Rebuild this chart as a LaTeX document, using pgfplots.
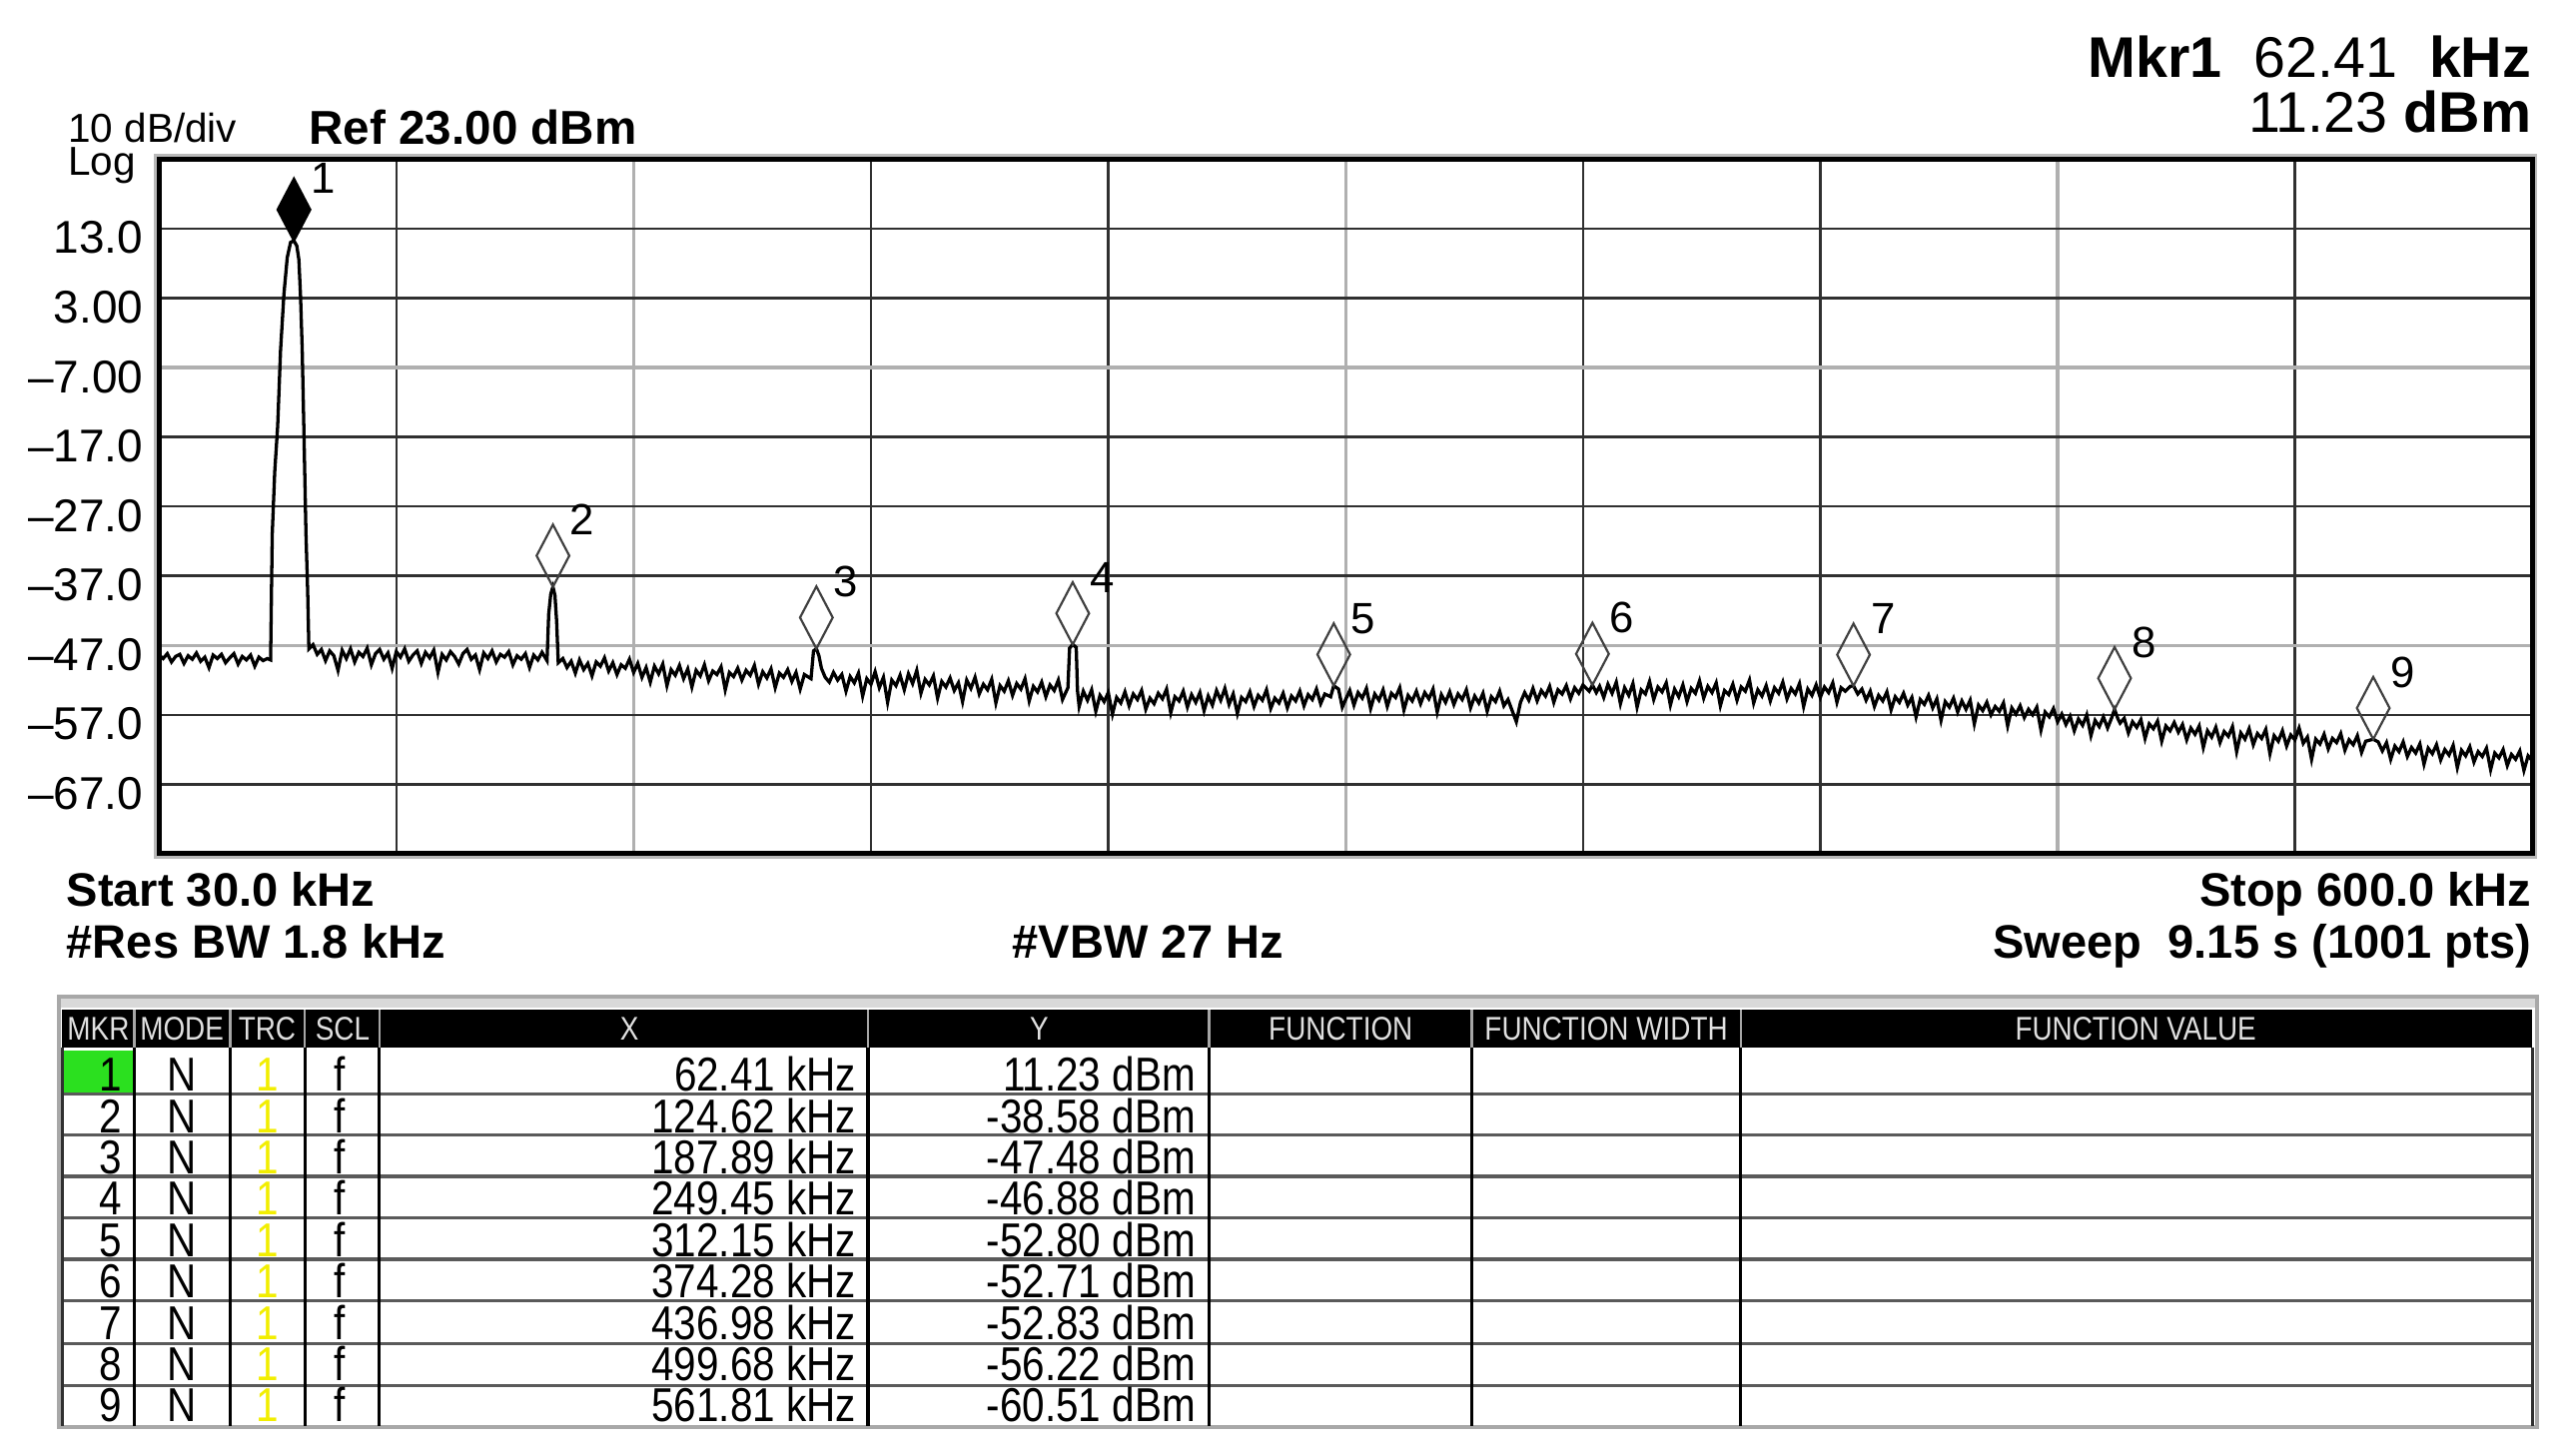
\documentclass[border=0pt]{standalone}
\usepackage{fontspec}
\setmainfont{Liberation Sans}
\newfontfamily\narrowfont[FakeStretch=0.85]{Liberation Sans}
\usepackage{pgfplots}
\pgfplotsset{compat=1.18}

\definecolor{gridblk}{HTML}{303030}
\definecolor{gridgry}{HTML}{B0B0B0}
\definecolor{mkrgreen}{HTML}{2BE01F}
\definecolor{trcyellow}{HTML}{F2EE00}
\definecolor{tblgray}{HTML}{A8A8A8}

\begin{document}
\begin{tikzpicture}[x=0.3pt,y=-0.3pt]
\path[use as bounding box] (0,0) rectangle (1568,888);
\coordinate (scrSW) at (97,521);
\begin{axis}[
  at={(scrSW)}, anchor=south west,
  scale only axis, width=434.4pt, height=127.2pt,
  x=, y=,
  xmin=30, xmax=600, ymin=-77, ymax=23,
  axis line style={draw=none},
  xtick=\empty,
  ytick={13,3,-7,-17,-27,-37,-47,-57,-67},
  yticklabels={13.0,3.00,–7.00,–17.0,–27.0,–37.0,–47.0,–57.0,–67.0},
  major tick length=0pt,
  yticklabel style={font=\fontsize{8.4}{10}\selectfont, anchor=east, inner sep=0pt, xshift=-2.7pt, yshift=-1.7pt},
  clip=false,
]
  % grid, dark and light lines as on the analyser screen
  \pgfplotsinvokeforeach{87,201,258,372,429,543}{
    \draw[gridblk, line width=0.45pt] (axis cs:#1,-77) -- (axis cs:#1,23);}
  \pgfplotsinvokeforeach{144,315,486}{
    \draw[gridgry, line width=0.6pt] (axis cs:#1,-77) -- (axis cs:#1,23);}
  \pgfplotsinvokeforeach{13,3,-17,-27,-37,-57,-67}{
    \draw[gridblk, line width=0.45pt] (axis cs:30,#1) -- (axis cs:600,#1);}
  \pgfplotsinvokeforeach{-7,-47}{
    \draw[gridgry, line width=0.6pt] (axis cs:30,#1) -- (axis cs:600,#1);}

  % trace 1
  \addplot[black, line width=0.6pt, mark=none, line join=miter] coordinates {
    (30,-48.4) (31,-48.9) (32,-48.2) (33,-49.4) (34,-48.6) (35,-48.3) (36,-49.6) (37,-48.5)
    (38,-49.0) (39,-48.1) (40,-49.3) (41,-48.7) (42,-50.2) (43,-48.4) (44,-48.9) (45,-48.3)
    (46,-49.5) (47,-48.8) (48,-48.2) (49,-49.7) (50,-48.6) (51,-49.1) (52,-48.4) (53,-50.0)
    (54,-48.7) (55,-49.2) (56,-48.9) (56.8,-49.1)
    (57.2,-31) (57.8,-22) (58.5,-15.5) (59.2,-4.5) (60.0,3.5) (60.8,8.8) (61.6,11.0) (62.41,11.23)
    (63.1,10.5) (63.6,8.5) (64.0,3.2) (64.4,-4.5) (64.8,-16) (65.3,-31) (65.7,-39) (66.0,-47.5)
    (67,-46.9) (68,-48.3) (69,-47.6) (70,-49.2) (71,-47.8) (72,-48.5) (73,-50.6) (74,-47.7)
    (75,-48.9) (76,-47.5) (77,-49.4) (78,-48.0) (79,-48.6) (80,-47.4) (81,-49.8) (82,-48.2)
    (83,-47.6) (84,-49.0) (85,-48.1) (86,-50.3) (87,-47.9) (88,-48.7) (89,-47.5) (90,-49.3)
    (91,-48.4) (92,-47.8) (93,-49.6) (94,-48.0) (95,-48.8) (96,-47.7) (97,-50.9) (98,-48.3)
    (99,-49.1) (100,-47.9) (101,-48.6) (102,-49.7) (103,-48.2) (104,-47.6) (105,-49.0) (106,-48.4)
    (107,-50.5) (108,-48.1) (109,-48.9) (110,-47.8) (111,-49.4) (112,-48.3) (113,-48.7) (114,-47.9)
    (115,-49.8) (116,-48.5) (117,-49.0) (118,-48.2) (119,-50.2) (120,-48.4) (121,-49.1) (122,-48.0)
    (123.2,-49.2)
    (123.6,-42.5) (124.1,-39.6) (124.62,-38.58) (125.1,-39.8) (125.5,-43.5) (125.9,-49.5)
    (127,-48.9) (128,-50.2) (129,-49.3) (130,-51.0) (131,-49.1) (132,-50.5) (133,-49.6) (134,-51.4)
    (135,-49.4) (136,-50.0) (137,-48.8) (138,-50.7) (139,-49.5) (140,-51.2) (141,-49.8) (142,-50.3)
    (143,-49.0) (144,-50.9) (145,-49.6) (146,-51.6) (147,-50.2) (148,-52.3) (149,-50.0) (150,-51.1)
    (151,-49.7) (152,-52.8) (153,-50.5) (154,-51.3) (155,-49.9) (156,-51.8) (157,-50.4) (158,-53.0)
    (159,-50.6) (160,-51.4) (161,-49.8) (162,-52.1) (163,-50.7) (164,-51.2) (165,-50.1) (166,-53.4)
    (167,-50.9) (168,-51.5) (169,-50.3) (170,-52.0) (171,-50.6) (172,-51.3) (173,-49.9) (174,-52.6)
    (175,-50.8) (176,-51.7) (177,-50.4) (178,-53.1) (179,-51.0) (180,-51.6) (181,-50.5) (182,-52.2)
    (183,-50.9) (184,-53.3) (185,-51.2) (186.6,-51.8)
    (187.2,-47.8) (187.89,-47.48) (188.5,-48.5) (189.1,-50.3) (190,-51.6)
    (191,-52.3) (192,-50.9) (193,-52.0) (194,-51.2) (195,-53.6) (196,-51.5) (197,-52.4) (198,-51.0)
    (199,-54.3) (200,-51.8) (201,-52.6) (202,-50.8) (203,-53.1) (204,-51.6) (205,-55.2) (206,-52.0)
    (207,-52.8) (208,-51.3) (209,-53.4) (210,-51.1) (211,-52.5) (212,-50.6) (213,-53.9) (214,-51.9)
    (215,-52.7) (216,-51.4) (217,-54.6) (218,-52.2) (219,-53.0) (220,-51.7) (221,-53.5) (222,-52.4)
    (223,-55.1) (224,-52.0) (225,-53.2) (226,-51.6) (227,-54.0) (228,-52.6) (229,-53.4) (230,-51.9)
    (231,-55.3) (232,-52.8) (233,-53.6) (234,-52.1) (235,-54.2) (236,-52.5) (237,-53.3) (238,-51.8)
    (239,-55.0) (240,-52.9) (241,-53.7) (242,-52.3) (243,-54.4) (244,-52.7) (245,-53.5) (246,-52.0)
    (247,-54.8) (248.3,-53.1)
    (248.7,-47.4) (249.45,-46.88) (250.3,-47.3) (250.6,-53.5)
    (251,-55.8) (252,-53.6) (253,-54.9) (254,-53.4) (255,-56.5) (256,-54.2) (257,-55.1) (258,-53.8)
    (259,-56.9) (260,-54.5) (261,-55.3) (262,-53.7) (263,-55.7) (264,-54.0) (265,-54.8) (266,-53.5)
    (267,-56.2) (268,-54.6) (269,-55.4) (270,-53.9) (271,-54.7) (272,-53.3) (273,-56.7) (274,-54.4)
    (275,-55.0) (276,-53.6) (277,-55.9) (278,-54.1) (279,-55.2) (280,-53.8) (281,-56.4) (282,-54.3)
    (283,-55.6) (284,-53.5) (285,-54.9) (286,-53.2) (287,-55.5) (288,-54.0) (289,-56.8) (290,-54.5)
    (291,-55.1) (292,-53.7) (293,-55.8) (294,-54.2) (295,-54.9) (296,-53.4) (297,-56.1) (298,-54.6)
    (299,-55.3) (300,-53.9) (301,-56.0) (302,-54.3) (303,-55.0) (304,-53.6) (305,-55.7) (306,-54.1)
    (307,-54.8) (308,-53.3) (309,-55.4) (310,-54.0) (311.4,-54.4)
    (312.15,-52.80) (313.3,-53.3) (314.2,-55.9)
    (315,-54.8) (316,-53.5) (317,-55.6) (318,-53.8) (319,-54.6) (320,-53.2) (321,-56.1) (322,-54.0)
    (323,-54.9) (324,-53.4) (325,-55.8) (326,-53.9) (327,-54.5) (328,-53.1) (329,-56.3) (330,-54.2)
    (331,-55.0) (332,-53.6) (333,-55.4) (334,-53.8) (335,-54.7) (336,-53.3) (337,-56.6) (338,-54.1)
    (339,-55.2) (340,-53.7) (341,-55.5) (342,-54.0) (343,-54.8) (344,-53.4) (345,-56.0) (346,-54.3)
    (347,-55.3) (348,-53.9) (349,-56.5) (350,-54.4) (351,-55.1) (352,-53.6) (353,-55.7) (354,-54.8)
    (355,-56.4) (356,-58.0) (357,-55.2) (358,-53.8) (359,-54.9) (360,-53.2) (361,-55.0) (362,-53.5)
    (363,-54.3) (364,-52.9) (365,-55.2) (366,-53.4) (367,-54.0) (368,-52.8) (369,-54.7) (370,-53.1)
    (371,-53.9) (372,-52.7) (373.5,-53.6)
    (374.28,-52.71) (375.2,-53.8)
    (376,-52.9) (377,-54.5) (378,-52.6) (379,-53.9) (380,-52.3) (381,-55.4) (382,-53.1) (383,-54.2)
    (384,-52.5) (385,-55.9) (386,-53.4) (387,-54.0) (388,-52.2) (389,-54.8) (390,-53.0) (391,-53.7)
    (392,-52.4) (393,-55.6) (394,-53.3) (395,-54.4) (396,-52.7) (397,-55.1) (398,-53.2) (399,-53.9)
    (400,-52.1) (401,-54.6) (402,-52.9) (403,-53.8) (404,-52.4) (405,-55.7) (406,-53.5) (407,-54.1)
    (408,-52.6) (409,-54.9) (410,-53.0) (411,-53.6) (412,-52.0) (413,-55.3) (414,-53.4) (415,-54.3)
    (416,-52.8) (417,-55.0) (418,-53.1) (419,-53.9) (420,-52.3) (421,-54.7) (422,-53.2) (423,-54.0)
    (424,-52.5) (425,-55.8) (426,-53.3) (427,-54.2) (428,-52.7) (429,-54.5) (430,-53.0) (431,-53.8)
    (432,-52.4) (433,-55.2) (434,-53.1) (435,-53.6) (436.2,-52.9)
    (436.98,-52.83)
    (438,-54.0) (439,-53.3) (440,-54.9) (441,-53.6) (442,-55.8) (443,-54.2) (444,-55.0) (445,-53.7)
    (446,-56.3) (447,-54.4) (448,-55.2) (449,-53.9) (450,-55.6) (451,-54.5) (452,-57.3) (453,-54.8)
    (454,-55.5) (455,-54.2) (456,-56.0) (457,-54.7) (458,-57.8) (459,-55.1) (460,-55.9) (461,-54.6)
    (462,-56.6) (463,-55.0) (464,-56.2) (465,-54.9) (466,-58.3) (467,-55.6) (468,-56.4) (469,-55.2)
    (470,-57.0) (471,-55.8) (472,-56.5) (473,-55.3) (474,-58.6) (475,-56.0) (476,-56.9) (477,-55.7)
    (478,-57.4) (479,-56.2) (480,-57.0) (481,-55.9) (482,-59.2) (483,-56.6) (484,-57.3) (485,-56.1)
    (486,-58.0) (487,-56.9) (488,-58.4) (489,-57.2) (490,-59.3) (491,-57.6) (492,-58.5) (493,-57.0)
    (494,-60.0) (495,-57.8) (496,-58.7) (497,-57.3) (498,-58.9) (499,-57.4) (499.68,-56.22) (500.5,-57.6)
    (501,-58.2) (502,-57.5) (503,-59.6) (504,-58.0) (505,-58.8) (506,-57.7) (507,-60.4) (508,-58.3)
    (509,-59.0) (510,-57.9) (511,-60.8) (512,-58.6) (513,-59.3) (514,-58.1)
    (515,-59.5) (516,-58.4) (517,-60.6) (518,-58.9) (519,-59.8) (520,-58.6) (521,-61.7) (522,-59.3)
    (523,-60.2) (524,-58.8) (525,-61.0) (526,-59.4) (527,-60.1) (528,-58.7) (529,-62.3) (530,-59.6)
    (531,-60.5) (532,-59.0) (533,-61.3) (534,-59.7) (535,-60.4) (536,-59.1) (537,-62.6) (538,-60.0)
    (539,-60.8) (540,-59.3) (541,-61.5) (542,-59.9) (543,-60.6) (544,-58.9) (545,-61.1) (546,-60.2)
    (547,-63.4) (548,-60.5) (549,-61.2) (550,-59.8) (551,-61.9) (552,-60.4) (553,-61.0) (554,-59.7)
    (555,-62.1) (556,-60.6) (557,-61.3) (558,-60.0) (559,-62.4) (560,-60.8) (561.81,-60.51)
    (563,-60.9) (564,-62.2) (565,-61.0) (566,-63.4) (567,-61.5) (568,-62.3) (569,-60.9) (570,-63.0)
    (571,-61.7) (572,-62.5) (573,-61.2) (574,-64.1) (575,-61.8) (576,-62.6) (577,-61.3) (578,-63.5)
    (579,-62.0) (580,-62.8) (581,-61.4) (582,-64.6) (583,-62.1) (584,-62.9) (585,-61.6) (586,-63.8)
    (587,-62.3) (588,-63.0) (589,-61.8) (590,-64.9) (591,-62.5) (592,-63.2) (593,-62.0) (594,-64.3)
    (595,-62.7) (596,-63.4) (597,-62.2) (598,-65.0) (599,-62.9) (600,-63.6)
  };

  % markers 2..9 (open) and marker 1 (active, filled)
  \addplot[only marks, mark=diamond, mark size=5.7pt,
    mark options={draw=black!75, line width=0.4pt, xscale=0.7, yshift=5.7pt}] coordinates {
    (124.62,-38.58) (187.89,-47.48) (249.45,-46.88) (312.15,-52.80)
    (374.28,-52.71) (436.98,-52.83) (499.68,-56.22) (561.81,-60.51)
  };
  \addplot[only marks, mark=diamond*, mark size=5.7pt,
    mark options={draw=black, fill=black, xscale=0.7, yshift=5.7pt}] coordinates {(62.41,11.23)};

  \node[font=\fontsize{8}{9}\selectfont, xshift=5.4pt, yshift=11.5pt] at (axis cs:62.41,11.23) {1};
  \node[font=\fontsize{8}{9}\selectfont, xshift=5.4pt, yshift=12.3pt] at (axis cs:124.62,-38.58) {2};
  \node[font=\fontsize{8}{9}\selectfont, xshift=5.4pt, yshift=12.3pt] at (axis cs:187.89,-47.48) {3};
  \node[font=\fontsize{8}{9}\selectfont, xshift=5.4pt, yshift=12.3pt] at (axis cs:249.45,-46.88) {4};
  \node[font=\fontsize{8}{9}\selectfont, xshift=5.4pt, yshift=12.3pt] at (axis cs:312.15,-52.80) {5};
  \node[font=\fontsize{8}{9}\selectfont, xshift=5.4pt, yshift=12.3pt] at (axis cs:374.28,-52.71) {6};
  \node[font=\fontsize{8}{9}\selectfont, xshift=5.4pt, yshift=12.3pt] at (axis cs:436.98,-52.83) {7};
  \node[font=\fontsize{8}{9}\selectfont, xshift=5.4pt, yshift=12.3pt] at (axis cs:499.68,-56.22) {8};
  \node[font=\fontsize{8}{9}\selectfont, xshift=5.4pt, yshift=12.3pt] at (axis cs:561.81,-60.51) {9};
\end{axis}

% screen frame
\draw[gray!55, line width=1pt] (95.5,95.5) rectangle (1546.5,522.5);
\draw[black, line width=0.9pt] (97,97) rectangle (1545,521);

% annotations round the screen
\node[anchor=base west, inner sep=0pt, font=\fontsize{7.4}{8}\selectfont] at (41,87) {10 dB/div};
\node[anchor=base west, inner sep=0pt, font=\fontsize{7.4}{8}\selectfont] at (41,107) {Log};
\node[anchor=base west, inner sep=0pt, font=\bfseries\fontsize{8.7}{10}\selectfont] at (188,88) {Ref 23.00 dBm};
\node[anchor=base east, inner sep=0pt, font=\fontsize{10.5}{12}\selectfont] at (1545,47) {\textbf{Mkr1}\ \ 62.41\ \ \textbf{kHz}};
\node[anchor=base east, inner sep=0pt, font=\fontsize{10.5}{12}\selectfont] at (1545,81) {11.23 \textbf{dBm}};
\node[anchor=base west, inner sep=0pt, font=\bfseries\fontsize{8.6}{10}\selectfont] at (40,553) {Start 30.0 kHz};
\node[anchor=base east, inner sep=0pt, font=\bfseries\fontsize{8.6}{10}\selectfont] at (1545,553) {Stop 600.0 kHz};
\node[anchor=base west, inner sep=0pt, font=\bfseries\fontsize{8.6}{10}\selectfont] at (40,585) {\#Res BW 1.8 kHz};
\node[anchor=base west, inner sep=0pt, font=\bfseries\fontsize{8.6}{10}\selectfont] at (617,585) {\#VBW 27 Hz};
\node[anchor=base east, inner sep=0pt, font=\bfseries\fontsize{8.6}{10}\selectfont] at (1545,585) {Sweep\ \ 9.15 s (1001 pts)};

% marker table
\fill[gray!30] (36,608) rectangle (1548,615);
\draw[tblgray, line width=0.7pt] (36,608) rectangle (1548,871);
\fill[black] (38,616) rectangle (1545,639);
\foreach \cx in {82,140.5,186,231.4,529.5,737.7,898,1062}
  \draw[gray!70, line width=0.4pt] (\cx,616) -- (\cx,639);
\fill[mkrgreen] (38,641) rectangle (81,667.5);
\foreach \ry in {667.5,692.5,717.8,743,768.4,793.7,820,845.5}
  \draw[gridblk!80, line width=0.6pt] (38,\ry) -- (1545,\ry);
\foreach \cx in {82,140.5,186,231.4,529.5,737.7,898,1062}
  \draw[black, line width=0.6pt] (\cx,639) -- (\cx,870);
\draw[gridblk, line width=0.6pt] (38,639) -- (38,870);
\draw[gridblk, line width=0.6pt] (1545,639) -- (1545,870);

\begin{scope}[every node/.style={inner sep=0pt, text=white!88!black, font=\narrowfont\fontsize{6}{7}\selectfont}]
  \node at (60,627.5) {MKR};
  \node at (111,627.5) {MODE};
  \node at (163,627.5) {TRC};
  \node at (209,627.5) {SCL};
  \node at (384,627.5) {X};
  \node at (634,627.5) {Y};
  \node at (818,627.5) {FUNCTION};
  \node at (980,627.5) {FUNCTION WIDTH};
  \node at (1303,627.5) {FUNCTION VALUE};
\end{scope}

\begin{scope}[every node/.style={inner sep=0pt, font=\narrowfont\fontsize{8.7}{10}\selectfont}]
  \foreach \n/\xv/\yv [count=\i] in {1/62.41/11.23, 2/124.62/-38.58, 3/187.89/-47.48,
      4/249.45/-46.88, 5/312.15/-52.80, 6/374.28/-52.71, 7/436.98/-52.83,
      8/499.68/-56.22, 9/561.81/-60.51} {
    \pgfmathsetmacro{\by}{640.8+25.2*\i}
    \node[anchor=base east] at (75,\by) {\n};
    \node[anchor=base] at (111,\by) {N};
    \node[anchor=base, text=trcyellow] at (163,\by) {1};
    \node[anchor=base] at (207,\by) {f};
    \node[anchor=base east] at (523,\by) {\xv\ kHz};
    \node[anchor=base east] at (730,\by) {\yv\ dBm};
  }
\end{scope}
\end{tikzpicture}
\end{document}
